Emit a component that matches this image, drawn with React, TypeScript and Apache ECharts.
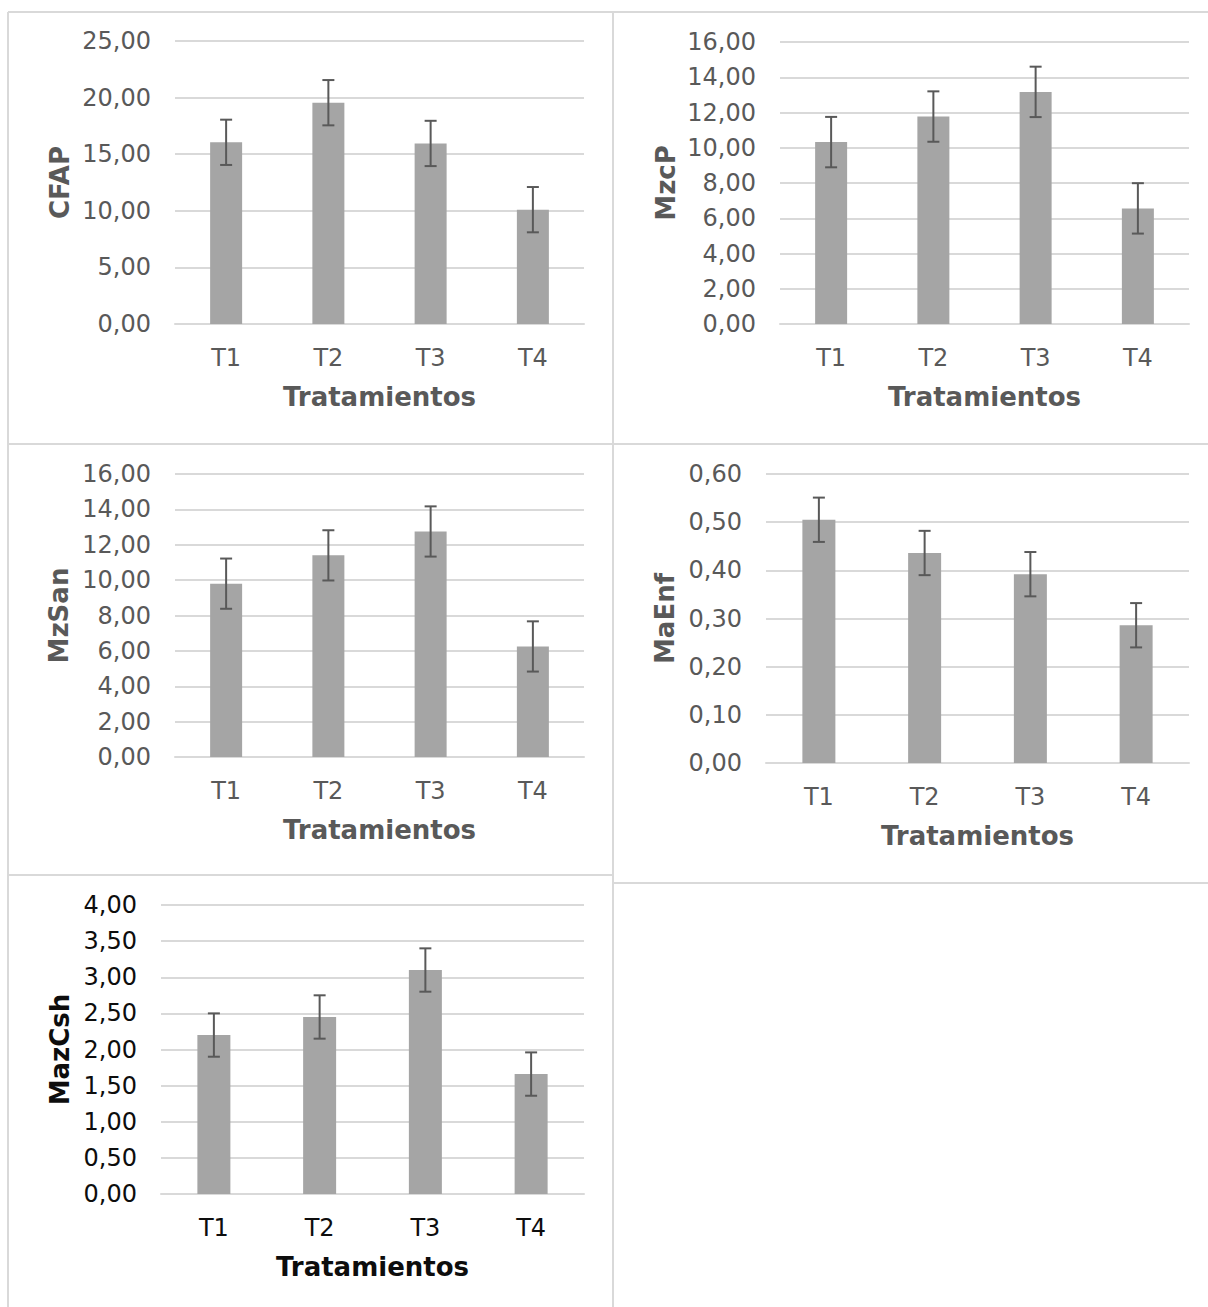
import React, { useEffect, useRef } from "react";
import * as echarts from "echarts";

// ---- data ----
const categories = ["T1", "T2", "T3", "T4"];

const cfapValues = [16.05, 19.55, 15.95, 10.1];
const cfapErrors = [2.0, 2.0, 2.0, 2.0];

const mzcpValues = [10.32, 11.77, 13.17, 6.56];
const mzcpErrors = [1.43, 1.43, 1.43, 1.43];

const mzsanValues = [9.8, 11.4, 12.75, 6.25];
const mzsanErrors = [1.42, 1.42, 1.42, 1.42];

const maenfValues = [0.505, 0.436, 0.392, 0.286];
const maenfErrors = [0.046, 0.046, 0.046, 0.046];

const mazcshValues = [2.2, 2.45, 3.1, 1.66];
const mazcshErrors = [0.3, 0.3, 0.3, 0.3];

const xTitle = "Tratamientos";

type Panel = {
  name: string;
  values: number[];
  errors: number[];
  max: number;
  interval: number;
  grid: { left: number; top: number; width: number; height: number };
  yNameGap: number;
  barWidth: number;
  textColor: string;
};

const panels: Panel[] = [
  { name: "CFAP", values: cfapValues, errors: cfapErrors, max: 25, interval: 5,
    grid: { left: 175, top: 41, width: 409, height: 283 }, yNameGap: 102, barWidth: 32, textColor: "#595959" },
  { name: "MzcP", values: mzcpValues, errors: mzcpErrors, max: 16, interval: 2,
    grid: { left: 780, top: 42, width: 409, height: 282 }, yNameGap: 101, barWidth: 32, textColor: "#595959" },
  { name: "MzSan", values: mzsanValues, errors: mzsanErrors, max: 16, interval: 2,
    grid: { left: 175, top: 474, width: 409, height: 283 }, yNameGap: 103, barWidth: 32, textColor: "#595959" },
  { name: "MaEnf", values: maenfValues, errors: maenfErrors, max: 0.6, interval: 0.1,
    grid: { left: 766, top: 474, width: 423, height: 289 }, yNameGap: 88, barWidth: 33, textColor: "#595959" },
  { name: "MazCsh", values: mazcshValues, errors: mazcshErrors, max: 4, interval: 0.5,
    grid: { left: 161, top: 905, width: 423, height: 289 }, yNameGap: 88, barWidth: 33, textColor: "#0d0d0d" },
];

const FONT = "'DejaVu Sans', Verdana, sans-serif";
const GRID_COLOR = "#d9d9d9";
const BAR_COLOR = "#a5a5a5";
const ERR_COLOR = "#595959";

function buildOption() {
  const grids: any[] = [];
  const xAxes: any[] = [];
  const yAxes: any[] = [];
  const series: any[] = [];

  panels.forEach((p, i) => {
    grids.push({ ...p.grid, containLabel: false });
    xAxes.push({
      type: "category",
      gridIndex: i,
      data: categories,
      axisLine: { show: true, lineStyle: { color: GRID_COLOR, width: 2 } },
      axisTick: { show: false },
      axisLabel: { color: p.textColor, fontFamily: FONT, fontSize: 24, margin: 22 },
      name: xTitle,
      nameLocation: "middle",
      nameGap: 60,
      nameTextStyle: { color: p.textColor, fontFamily: FONT, fontSize: 26, fontWeight: "bold" },
    });
    yAxes.push({
      type: "value",
      gridIndex: i,
      min: 0,
      max: p.max,
      interval: p.interval,
      axisLine: { show: false },
      axisTick: { show: false },
      splitLine: { show: true, lineStyle: { color: GRID_COLOR, width: 2 } },
      axisLabel: {
        color: p.textColor,
        fontFamily: FONT,
        fontSize: 24,
        margin: 24,
        formatter: (v: number) => v.toFixed(2).replace(".", ","),
      },
      name: p.name,
      nameLocation: "middle",
      nameRotate: 90,
      nameGap: p.yNameGap,
      nameTextStyle: { color: p.textColor, fontFamily: FONT, fontSize: 26, fontWeight: "bold" },
    });
    series.push({
      type: "bar",
      xAxisIndex: i,
      yAxisIndex: i,
      data: p.values,
      barWidth: p.barWidth,
      itemStyle: { color: BAR_COLOR },
    });
    series.push({
      type: "custom",
      xAxisIndex: i,
      yAxisIndex: i,
      data: p.values.map((v, k) => [k, v - p.errors[k], v + p.errors[k]]),
      encode: { x: 0, y: [1, 2] },
      z: 10,
      renderItem: (params: any, api: any) => {
        const idx = api.value(0);
        const lo = api.coord([idx, api.value(1)]);
        const hi = api.coord([idx, api.value(2)]);
        const hw = 6;
        const style = { stroke: ERR_COLOR, lineWidth: 2, fill: "none" };
        return {
          type: "group",
          children: [
            { type: "line", shape: { x1: lo[0], y1: lo[1], x2: hi[0], y2: hi[1] }, style },
            { type: "line", shape: { x1: hi[0] - hw, y1: hi[1], x2: hi[0] + hw, y2: hi[1] }, style },
            { type: "line", shape: { x1: lo[0] - hw, y1: lo[1], x2: lo[0] + hw, y2: lo[1] }, style },
          ],
        };
      },
    });
  });

  const border = (x1: number, y1: number, x2: number, y2: number) => ({
    type: "line",
    shape: { x1, y1, x2, y2 },
    style: { stroke: GRID_COLOR, lineWidth: 2 },
    silent: true,
  });

  return {
    animation: false,
    backgroundColor: "#ffffff",
    grid: grids,
    xAxis: xAxes,
    yAxis: yAxes,
    series,
    graphic: [
      border(8, 12, 1208, 12),
      border(8, 12, 8, 1307),
      border(613, 12, 613, 1307),
      border(8, 444, 1208, 444),
      border(8, 875, 613, 875),
      border(613, 883, 1208, 883),
    ],
  };
}

export default function App() {
  const ref = useRef<HTMLDivElement>(null);
  useEffect(() => {
    if (!ref.current) return;
    const chart = echarts.init(ref.current, undefined, { renderer: "svg" });
    chart.setOption(buildOption() as any);
    return () => chart.dispose();
  }, []);
  return (
    <div
      ref={ref}
      style={{ position: "absolute", left: 0, top: 0, width: 1208, height: 1307, background: "#fff" }}
    />
  );
}
